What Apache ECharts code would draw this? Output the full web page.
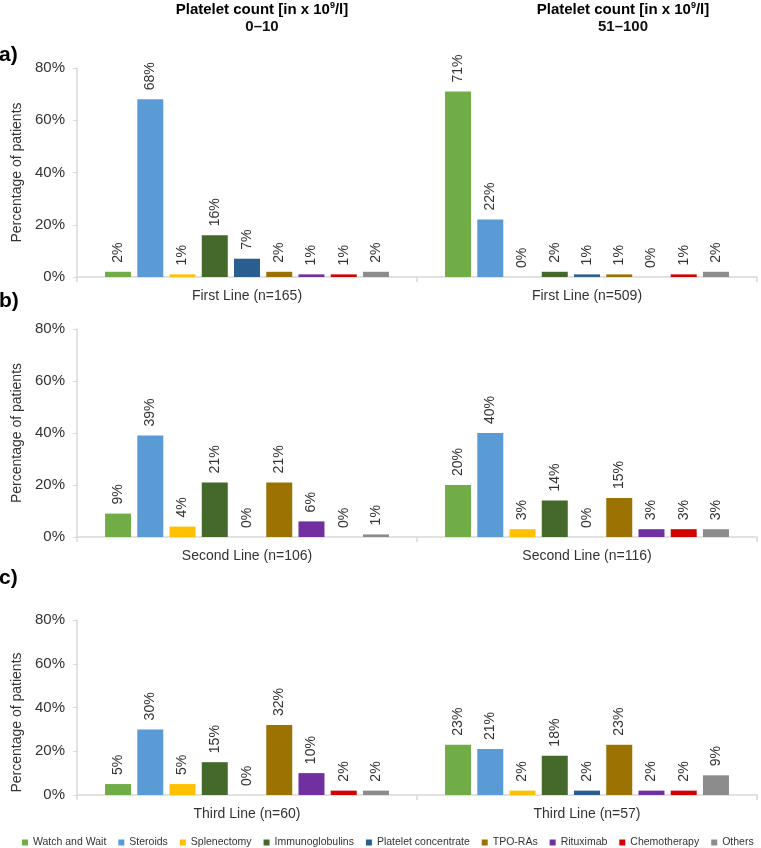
<!DOCTYPE html>
<html>
<head>
<meta charset="utf-8">
<script src="https://cdn.jsdelivr.net/npm/echarts@6/dist/echarts.min.js"></script>
<style>
html,body{margin:0;padding:0;background:#fff;}
#chart{width:761px;height:848px;}
</style>
</head>
<body>
<div id="chart"></div>
<script>
// ---- data ----
const treatments = ['Watch and Wait','Steroids','Splenectomy','Immunoglobulins','Platelet concentrate','TPO-RAs','Rituximab','Chemotherapy','Others'];
const firstLineCats  = ['First Line (n=165)', 'First Line (n=509)'];
const secondLineCats = ['Second Line (n=106)', 'Second Line (n=116)'];
const thirdLineCats  = ['Third Line (n=60)', 'Third Line (n=57)'];
// values (% of patients), order follows treatments
const firstLine_0_10    = [2, 68, 1, 16, 7, 2, 1, 1, 2];
const firstLine_51_100  = [71, 22, 0, 2, 1, 1, 0, 1, 2];
const secondLine_0_10   = [9, 39, 4, 21, 0, 21, 6, 0, 1];
const secondLine_51_100 = [20, 40, 3, 14, 0, 15, 3, 3, 3];
const thirdLine_0_10    = [5, 30, 5, 15, 0, 32, 10, 2, 2];
const thirdLine_51_100  = [23, 21, 2, 18, 2, 23, 2, 2, 9];
const yTicks = [0, 20, 40, 60, 80];
const headerLeft  = '0–10';
const headerRight = '51–100';
const rowTags = ['a)', 'b)', 'c)'];
const yName = 'Percentage of patients';

// ---- style ----
const colors = ['#70AD47','#5B9BD5','#FFC000','#44692A','#2A5E91','#9C7303','#7030A0','#D40000','#8C8C8C'];
const txt = '#333333';
const axisGray = '#D9D9D9';
const FONT = 'Liberation Sans, Arial, sans-serif';

const rows = [
  {cats: firstLineCats,  left: firstLine_0_10,  right: firstLine_51_100,  top: 68,  height: 209, namePad: null},
  {cats: secondLineCats, left: secondLine_0_10, right: secondLine_51_100, top: 329, height: 208, namePad: null},
  {cats: thirdLineCats,  left: thirdLine_0_10,  right: thirdLine_51_100,  top: 620, height: 175, namePad: [0, 30, 0, 0]}
];

const grid = [], xAxis = [], yAxis = [], series = [];
rows.forEach((r, i) => {
  grid.push({left: 77, width: 680, top: r.top, height: r.height, outerBoundsMode: 'none', containLabel: false});
  xAxis.push({
    type: 'category', gridIndex: i, data: r.cats,
    axisLine: {show: true, lineStyle: {color: axisGray, width: 1.5}},
    axisTick: {show: true, length: 5, lineStyle: {color: axisGray, width: 1.5}},
    axisLabel: {fontSize: 14, color: txt, margin: 12, fontFamily: FONT},
    splitLine: {show: false}
  });
  const ya = {
    type: 'value', gridIndex: i, min: yTicks[0], max: yTicks[yTicks.length - 1], interval: 20,
    axisLine: {show: true, lineStyle: {color: axisGray, width: 1.5}},
    axisTick: {show: true, length: 4, lineStyle: {color: axisGray}},
    axisLabel: {fontSize: 15, color: txt, margin: 12, fontFamily: FONT, formatter: '{value}%'},
    splitLine: {show: false},
    name: yName, nameLocation: 'middle', nameGap: 48,
    nameTextStyle: {fontSize: 14, color: txt, fontFamily: FONT}
  };
  if (r.namePad) ya.nameTextStyle.padding = r.namePad;
  yAxis.push(ya);
  treatments.forEach((t, k) => {
    series.push({
      type: 'bar', name: t, xAxisIndex: i, yAxisIndex: i,
      data: [r.left[k], r.right[k]],
      barWidth: 26, barGap: '24%',
      itemStyle: {color: colors[k]},
      label: {
        show: true, position: 'top', rotate: 90, align: 'left', verticalAlign: 'middle',
        distance: 9, fontSize: 14, color: txt, fontFamily: FONT, formatter: '{c}%'
      }
    });
  });
});

const headerRich = {
  b: {fontSize: 15, fontWeight: 'bold', color: '#111', fontFamily: FONT, lineHeight: 18},
  s: {fontSize: 9, fontWeight: 'bold', color: '#111', fontFamily: FONT, verticalAlign: 'top', lineHeight: 18, padding: [0, 0, 6, 0]}
};
function header(x, sub) {
  return [
    {type: 'text', x: x, y: 10, style: {text: '{b|Platelet count [in x 10}{s|9}{b|/l]}', rich: headerRich, textAlign: 'center', textVerticalAlign: 'middle'}},
    {type: 'text', x: x, y: 27, style: {text: sub, fontSize: 15, fontWeight: 'bold', fill: '#111', fontFamily: FONT, textAlign: 'center', textVerticalAlign: 'middle'}}
  ];
}
const tagY = [55, 301, 578];
const graphic = [...header(262, headerLeft), ...header(623, headerRight)];
rowTags.forEach((t, i) => {
  graphic.push({type: 'text', x: -1, y: tagY[i], style: {text: t, fontSize: 21, fontWeight: 'bold', fill: '#000', fontFamily: FONT, textAlign: 'left', textVerticalAlign: 'middle'}});
});

const chart = echarts.init(document.getElementById('chart'), null, {renderer: 'canvas'});
chart.setOption({
  animation: false,
  backgroundColor: '#fff',
  textStyle: {fontFamily: FONT},
  grid: grid, xAxis: xAxis, yAxis: yAxis, series: series,
  legend: {
    data: treatments, left: 22, top: 837, width: 739, padding: 0,
    icon: 'rect', itemWidth: 6, itemHeight: 6, itemGap: 12,
    textStyle: {fontSize: 10.5, color: txt, fontFamily: FONT}
  },
  graphic: graphic
});
</script>
</body>
</html>
